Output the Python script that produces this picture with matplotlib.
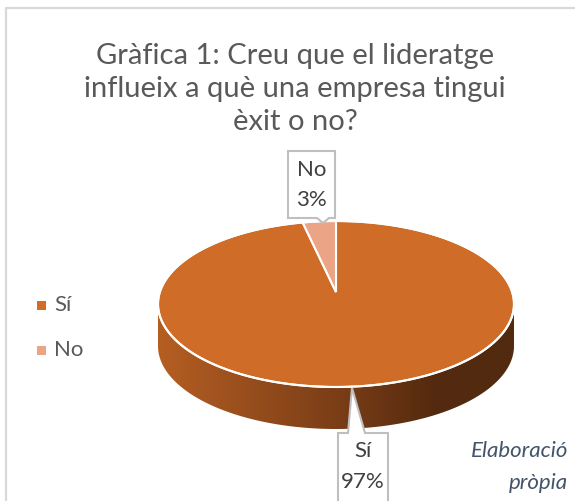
import numpy as np
import matplotlib.pyplot as plt
from matplotlib.patches import Polygon, Rectangle
from matplotlib.colors import LinearSegmentedColormap

# Dades del gràfic
categories = ['Sí', 'No']
valors = [97, 3]
etiquetes = ['Sí\n97%', 'No\n3%']
colors = ['#cf6d28', '#eca486']

titol = 'Gràfica 1: Creu que el lideratge\ninflueix a què una empresa tingui\nèxit o no?'
font = ['Lato', 'DejaVu Sans']

W, H = 575, 501
fig = plt.figure(figsize=(W / 100, H / 100), dpi=100)
ax = fig.add_axes([0, 0, 1, 1])
ax.set_xlim(0, W)
ax.set_ylim(H, 0)
ax.axis('off')

# marc del gràfic
ax.plot([6, 6, W], [H, 8, 8], color='#d9d9d9', lw=1.6, zorder=1)

# geometria del pastís 3D (coordenades en píxels)
cx, cy, a, b, d = 336, 304, 178, 83, 42

def punt(t):
    return cx + a * np.cos(t), cy - b * np.sin(t)

# lateral (només la meitat davantera)
t = np.linspace(np.pi, 2 * np.pi, 200)
xs, ys = punt(t)
lateral = np.column_stack([np.r_[xs, xs[::-1]], np.r_[ys, ys[::-1] + d]])
pol = Polygon(lateral, closed=True, facecolor='none', edgecolor='none')
ax.add_patch(pol)
cmap = LinearSegmentedColormap.from_list('lat', [(0, '#b55e22'), (0.5, '#7b3e17'), (0.78, '#542a0f'), (1, '#512a0f')])
grad = np.linspace(0, 1, 256).reshape(1, -1)
im = ax.imshow(grad, extent=[cx - a, cx + a, cy + d + b, cy - b], cmap=cmap, aspect='auto', zorder=2)
im.set_clip_path(pol)

# cara superior: llesques a partir dels valors, començant a les 12 i en sentit horari
total = sum(valors)
inici = np.pi / 2
for v, c in zip(valors, colors):
    ang = 2 * np.pi * v / total
    tt = np.linspace(inici, inici - ang, max(int(v * 4), 10))
    px, py = punt(tt)
    verts = np.column_stack([np.r_[cx, px], np.r_[cy - 12, py]])
    ax.add_patch(Polygon(verts, closed=True, facecolor=c, edgecolor='white', lw=1.5, zorder=3))
    inici -= ang

# contorn blanc de la cara superior
tt = np.linspace(0, 2 * np.pi, 400)
px, py = punt(tt)
ax.plot(px, py, color='white', lw=1.5, zorder=4)

# etiquetes amb requadre (callout)
gris = '#bfbfbf'
fs = 16
# No
ax.add_patch(Polygon([(288, 151), (335, 151), (335, 218), (329, 218), (323, 223), (317, 218), (288, 218)],
                     closed=True, facecolor='white', edgecolor=gris, lw=1.5, zorder=5))
ax.text(311.5, 170, 'No', ha='center', va='center', fontsize=fs, color='#404040', family=font, zorder=6)
ax.text(311.5, 200, '3%', ha='center', va='center', fontsize=fs, color='#404040', family=font, zorder=6)
# Sí
ax.add_patch(Polygon([(338, 433), (348, 433), (352, 388), (365, 433), (388, 433), (388, 503), (338, 503)],
                     closed=True, facecolor='white', edgecolor=gris, lw=1.5, zorder=5))
ax.text(363, 451, 'Sí', ha='center', va='center', fontsize=fs, color='#404040', family=font, zorder=6)
ax.text(363, 482, '97%', ha='center', va='center', fontsize=fs, color='#404040', family=font, zorder=6)

# títol
ax.text(295, 89, titol, ha='center', va='center', fontsize=21, color='#595959', family=font,
        linespacing=1.33, zorder=6)

# llegenda
for i, (cat, c) in enumerate(zip(categories, colors)):
    y = 305 + 45 * i
    ax.add_patch(Rectangle((37, y - 4.5), 9, 9, facecolor=c, edgecolor='none', zorder=6))
    ax.text(54, y, cat, ha='left', va='center', fontsize=fs, color='#595959', family=font, zorder=6)

# font
ax.text(568, 451, 'Elaboració', ha='right', va='center', fontsize=fs, color='#44546a',
        style='italic', family=font, zorder=6)
ax.text(568, 483, 'pròpia', ha='right', va='center', fontsize=fs, color='#44546a',
        style='italic', family=font, zorder=6)

fig.savefig('out.png', dpi=100)
